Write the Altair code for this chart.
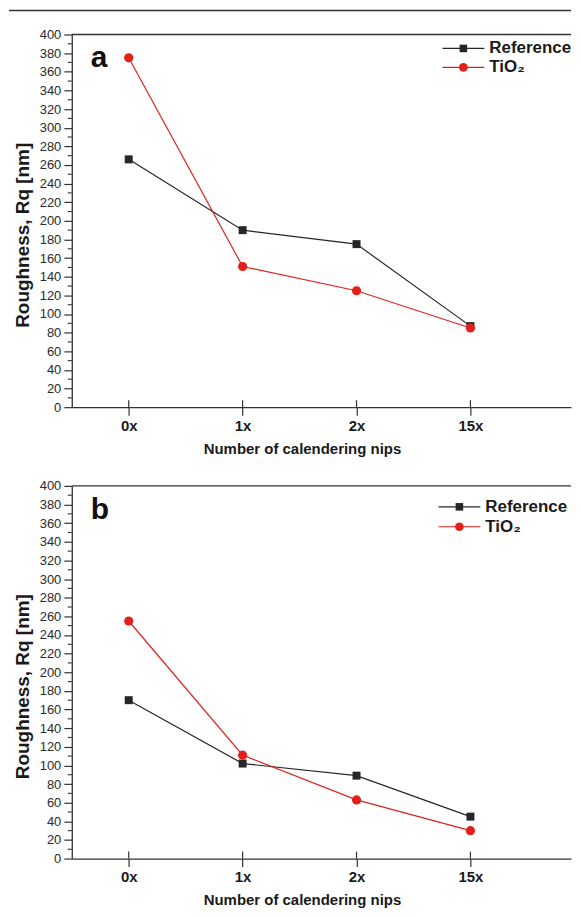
import altair as alt
import pandas as pd

categories = ["0x", "1x", "2x", "15x"]
series_names = ["Reference", "TiO₂"]
a_reference = [266, 190, 175, 87]
a_tio2 = [375, 151, 125, 85]
b_reference = [170, 102, 89, 45]
b_tio2 = [255, 111, 63, 30]
y_ticks = list(range(0, 401, 20))
y_minor = list(range(10, 400, 20))
x_positions = [1, 2, 3, 4]

W, H = 501, 374
FONT = "Liberation Sans"
INK = "#262626"
RED = "#e3211c"
colors = [INK, RED]
marker_shapes = ["square", "circle"]
marker_sizes = [64, 85]


def make_df(ref, tio):
    rows = []
    for s, vals in zip(series_names, [ref, tio]):
        for i, c in enumerate(categories):
            rows.append({"cat": c, "idx": x_positions[i], "series": s, "value": vals[i]})
    return pd.DataFrame(rows)


label_expr = "[" + ",".join("'%s'" % c for c in categories) + "][datum.value - 1]"


def panel(ref, tio, letter, leg_x, leg_rows, page_line):
    df = make_df(ref, tio)
    x_scale = alt.Scale(domain=[0.5, 4.883], nice=False, zero=False)
    y_scale = alt.Scale(domain=[0, 400], nice=False, zero=True)
    col_scale = alt.Scale(domain=series_names, range=colors)

    x_axis = alt.Axis(
        values=x_positions, labelExpr=label_expr, title="Number of calendering nips",
        grid=False, tickSize=8, labelPadding=3, labelFontSize=15, labelFontWeight="bold",
        labelColor="#1a1a1a", titleFontSize=15, titleFontWeight="bold", titleColor="#1a1a1a",
        titlePadding=8, titleX=231, titleAnchor="middle", titleAlign="center")
    y_axis = alt.Axis(
        values=y_ticks, title="Roughness, Rq [nm]", grid=False, tickSize=8,
        labelPadding=3, labelFontSize=13, labelColor="#2b2b2b",
        titleFontSize=19, titleFontWeight="bold", titleColor="#1a1a1a", titlePadding=7,
        titleY=H / 2 + 14)

    def X(f):
        return alt.X(f, scale=x_scale, axis=x_axis)

    def Y(f):
        return alt.Y(f, scale=y_scale, axis=y_axis)

    lines = alt.Chart(df).mark_line(strokeWidth=1.2).encode(
        x=X("idx:Q"), y=Y("value:Q"),
        color=alt.Color("series:N", scale=col_scale, legend=None),
        detail="series:N")

    squares = alt.Chart(df).transform_filter(
        alt.datum.series == series_names[0]).mark_square(size=marker_sizes[0], opacity=1).encode(
        x=X("idx:Q"), y=Y("value:Q"),
        color=alt.Color("series:N", scale=col_scale, legend=None))

    circles = alt.Chart(df).transform_filter(
        alt.datum.series == series_names[1]).mark_circle(size=marker_sizes[1], opacity=1).encode(
        x=X("idx:Q"), y=Y("value:Q"),
        color=alt.Color("series:N", scale=col_scale, legend=None))

    frame_top = alt.Chart(pd.DataFrame({"value": [400]})).mark_rule(color="#333", strokeWidth=1.3).encode(
        y=Y("value:Q"))

    minor = alt.Chart(pd.DataFrame({"value": y_minor})).mark_rule(color="#333", strokeWidth=1.1).encode(
        y=Y("value:Q"), x=alt.value(-4), x2=alt.value(0))

    inner_ticks = alt.Chart(pd.DataFrame({"idx": x_positions})).mark_rule(color="#333", strokeWidth=1.2).encode(
        x=X("idx:Q"), y=alt.value(H - 7), y2=alt.value(H))

    letter_layer = alt.Chart(pd.DataFrame({"t": [letter]})).mark_text(
        font=FONT, fontSize=30, fontWeight="bold", color="#111", align="left", baseline="alphabetic").encode(
        text="t:N", x=alt.value(19), y=alt.value(33))

    # key drawn inside the plot, top right
    legend_layers = []
    for name, colr, shp, sz, ry in zip(series_names, colors, marker_shapes, marker_sizes, leg_rows):
        kd = pd.DataFrame({"s": [name]})
        legend_layers.append(alt.Chart(kd).mark_rule(color=colr, strokeWidth=1.2).encode(
            x=alt.value(leg_x - 21), x2=alt.value(leg_x + 21), y=alt.value(ry)))
        legend_layers.append(alt.Chart(kd).mark_point(shape=shp, filled=True, size=sz * 0.9, color=colr, opacity=1).encode(
            x=alt.value(leg_x), y=alt.value(ry)))
        legend_layers.append(alt.Chart(kd).mark_text(
            font=FONT, fontSize=17, fontWeight="bold", color="#1a1a1a", align="left", baseline="middle",
            clip=True).encode(
            text="s:N", x=alt.value(leg_x + 26), y=alt.value(ry)))

    layers = [lines, frame_top, minor, inner_ticks, squares, circles, letter_layer] + legend_layers
    if page_line:
        top = alt.Chart(pd.DataFrame({"t": [0]})).mark_rule(color="#333", strokeWidth=1.5).encode(
            x=alt.value(-63), x2=alt.value(W), y=alt.value(-24))
        layers = layers + [top]
    return alt.layer(*layers).properties(width=W, height=H)


pa = panel(a_reference, a_tio2, "a", 393, [14, 33], True)
pb = panel(b_reference, b_tio2, "b", 389, [21, 41], False)

chart = alt.vconcat(pa, pb, spacing=79, bounds="flush").resolve_scale(
    x="independent", y="independent", color="independent"
).properties(
    padding={"left": 0, "top": 0, "right": 0, "bottom": 0}
).configure(
    font=FONT
).configure_view(stroke=None).configure_axis(
    domainColor="#333", domainWidth=1.3, tickColor="#333", tickWidth=1.2,
    labelFont=FONT, titleFont=FONT)

chart.save("out.html", embed_options={"renderer": "svg", "actions": False})
